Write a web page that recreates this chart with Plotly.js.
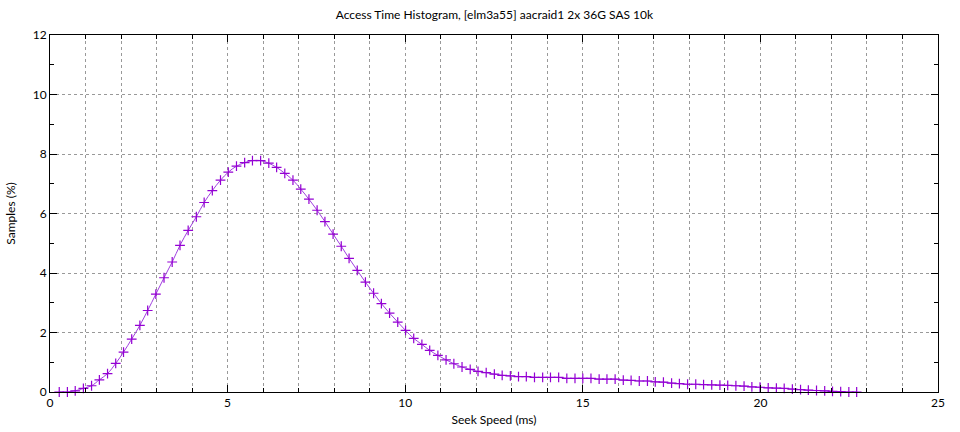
<!DOCTYPE html>
<html>
<head>
<meta charset="utf-8">
<script src="https://cdn.plot.ly/plotly-3.0.1.min.js"></script>
<style>html,body{margin:0;padding:0;background:#fff}#chart{width:960px;height:432px}</style>
</head>
<body>
<div id="chart"></div>
<script>
var chartTitle = "Access Time Histogram, [elm3a55] aacraid1 2x 36G SAS 10k";
var xTitle = "Seek Speed (ms)";
var yTitle = "Samples (%)";

var seekMs = [0.26,0.49,0.71,0.94,1.17,1.39,1.62,1.85,2.07,2.30,
  2.53,2.75,2.98,3.21,3.44,3.66,3.89,4.12,4.34,4.57,
  4.80,5.02,5.25,5.48,5.70,5.93,6.16,6.38,6.61,6.84,
  7.06,7.29,7.52,7.74,7.97,8.20,8.42,8.65,8.88,9.11,
  9.33,9.56,9.79,10.01,10.24,10.47,10.69,10.92,11.15,11.37,
  11.60,11.83,12.05,12.28,12.51,12.73,12.96,13.19,13.41,13.64,
  13.87,14.09,14.32,14.55,14.78,15.00,15.23,15.46,15.68,15.91,
  16.14,16.36,16.59,16.82,17.04,17.27,17.50,17.72,17.95,18.18,
  18.40,18.63,18.86,19.08,19.31,19.54,19.76,19.99,20.22,20.45,
  20.67,20.90,21.13,21.35,21.58,21.81,22.03,22.26,22.49,22.71];

var samplesPct = [0.00,0.00,0.04,0.12,0.21,0.41,0.62,0.96,1.34,1.78,
  2.24,2.74,3.29,3.84,4.37,4.93,5.43,5.89,6.37,6.77,
  7.12,7.39,7.59,7.71,7.78,7.78,7.69,7.55,7.35,7.12,
  6.82,6.48,6.11,5.73,5.31,4.90,4.49,4.09,3.69,3.32,
  2.97,2.65,2.35,2.07,1.80,1.60,1.40,1.23,1.08,0.95,
  0.84,0.76,0.69,0.65,0.60,0.56,0.54,0.52,0.52,0.49,
  0.49,0.49,0.49,0.46,0.46,0.46,0.46,0.43,0.43,0.43,
  0.40,0.39,0.37,0.37,0.34,0.33,0.30,0.28,0.26,0.26,
  0.25,0.24,0.23,0.22,0.21,0.20,0.17,0.16,0.14,0.13,
  0.12,0.10,0.08,0.06,0.05,0.04,0.02,0.01,0.00,0.00];

var xTicks = [0,5,10,15,20,25];
var yTicks = [0,2,4,6,8,10,12];

var font = "'Source Sans Pro','Lato','Noto Sans',sans-serif";

var trace = {
  x: seekMs, y: samplesPct, type: 'scatter', mode: 'lines+markers',
  line: {color: '#a040e0', width: 1, shape: 'spline'},
  marker: {symbol: 'cross-thin-open', size: 7, color: '#9400d3', line: {color: '#9400d3', width: 1.2}},
  hoverinfo: 'x+y', showlegend: false, cliponaxis: false
};

var axisCommon = {
  showline: true, linecolor: '#000', linewidth: 1, mirror: 'ticks',
  ticks: 'inside', ticklen: 7, tickcolor: '#000', tickwidth: 1,
  zeroline: false, showgrid: true, gridcolor: '#999999', gridwidth: 1, griddash: '3px,3px',
  tickfont: {family: font, size: 12, color: '#000'}
};

var layout = {
  width: 960, height: 432,
  margin: {l: 50, r: 22, t: 35, b: 40},
  paper_bgcolor: '#fff', plot_bgcolor: '#fff',
  font: {family: font, size: 12, color: '#000'},
  title: {text: chartTitle, x: 0.515, xanchor: 'center', y: 0.975, yanchor: 'top', font: {family: font, size: 12, color: '#000'}},
  xaxis: Object.assign({}, axisCommon, {
    range: [0, 25], tickmode: 'array', tickvals: xTicks, ticktext: xTicks.map(String),
    minor: {dtick: 1, tick0: 0, ticks: 'inside', ticklen: 4, tickcolor: '#000', showgrid: true, gridcolor: '#999999', griddash: '3px,3px'},
    title: {text: xTitle, standoff: 6, font: {family: font, size: 12, color: '#000'}}
  }),
  yaxis: Object.assign({}, axisCommon, {
    range: [0, 12], tickmode: 'array', tickvals: yTicks, ticktext: yTicks.map(String),
    minor: {dtick: 1, tick0: 0, ticks: 'inside', ticklen: 4, tickcolor: '#000', showgrid: false},
    title: {text: yTitle, standoff: 14, font: {family: font, size: 12, color: '#000'}}
  })
};

Plotly.newPlot('chart', [trace], layout, {displayModeBar: false, staticPlot: true});
</script>
</body>
</html>
